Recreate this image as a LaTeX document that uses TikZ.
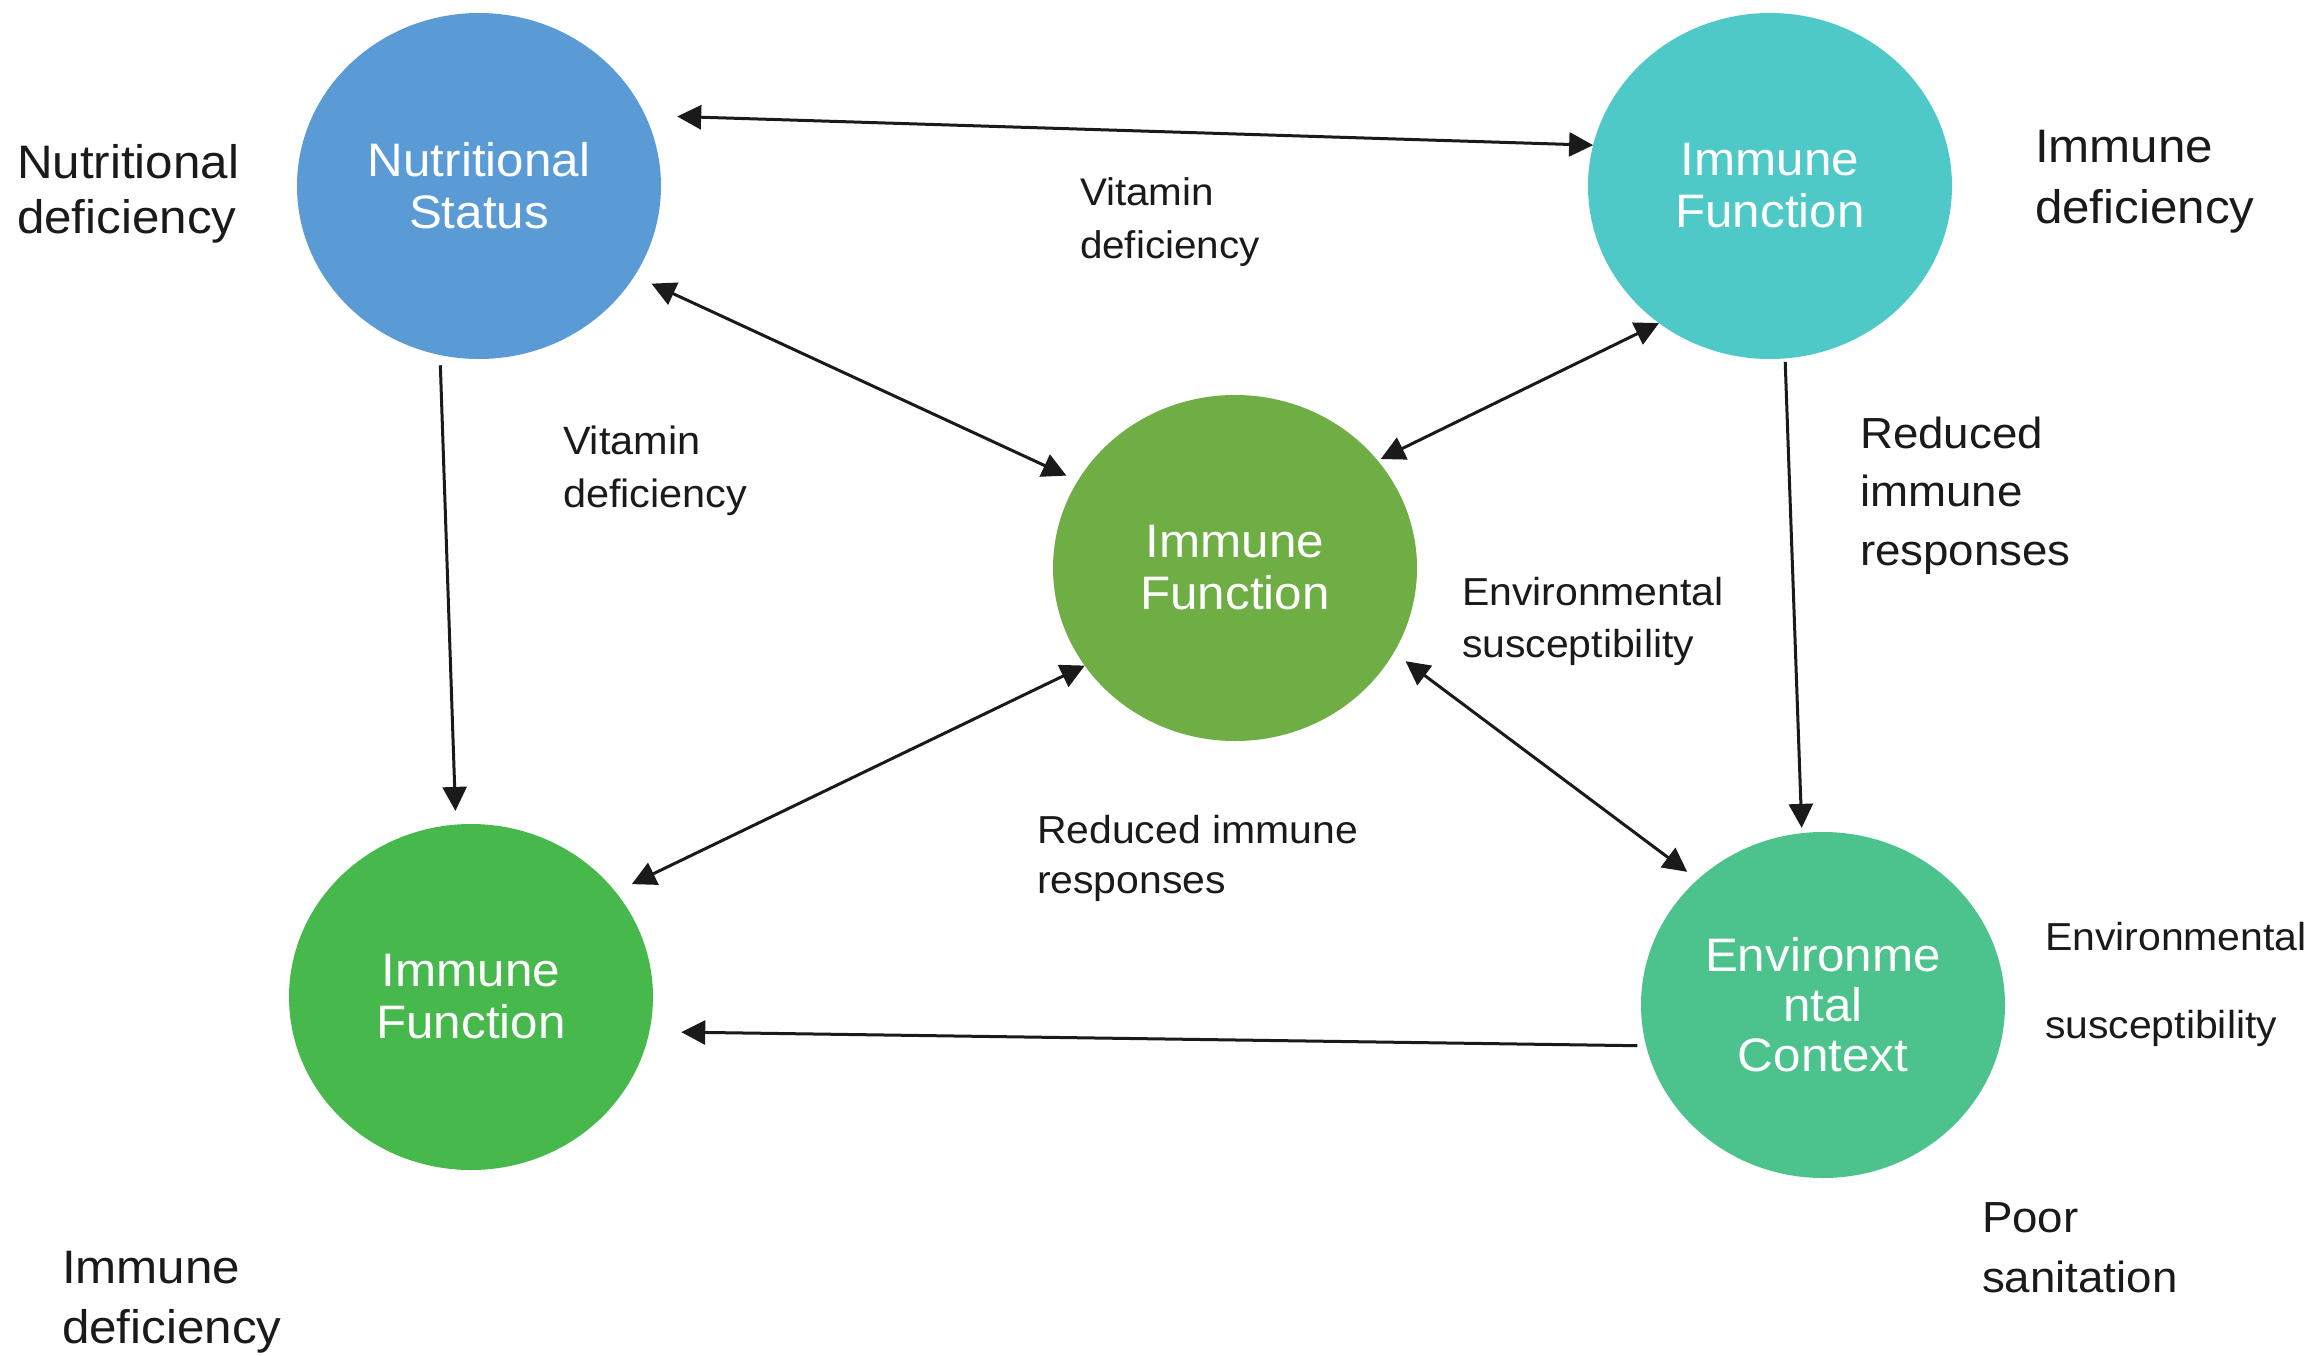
\documentclass[tikz,border=0pt]{standalone}
\usepackage{fontspec}
\setmainfont[FakeStretch=1.05]{Liberation Sans}
\usetikzlibrary{arrows.meta,shapes.geometric}
\definecolor{nsblue}{HTML}{5B9BD5}
\definecolor{trcyan}{HTML}{4FC8C8}
\definecolor{midgreen}{HTML}{6FAD45}
\definecolor{blgreen}{HTML}{47B94C}
\definecolor{envgreen}{HTML}{4CC38C}
\definecolor{ink}{HTML}{1A1A1A}
\begin{document}
\begin{tikzpicture}[x=1pt,y=-1pt,
  circ/.style={ellipse, minimum width=364pt, minimum height=346pt, inner sep=0pt, outer sep=0pt,
    text=white, align=center, font=\fontsize{47}{52}\selectfont},
  lbl/.style={anchor=base west, inner sep=0pt, outer sep=0pt, align=left, text=ink},
  arr/.style={draw=ink, line width=3pt, -{Triangle[length=24pt,width=24pt]}},
  dbl/.style={draw=ink, line width=3pt, {Triangle[length=24pt,width=24pt]}-{Triangle[length=24pt,width=24pt]}}
]
\useasboundingbox[fill=white] (0,0) rectangle (2313,1355);

% circles
\node[circ, fill=nsblue]   (ns)  at (479,186)   {Nutritional\\Status};
\node[circ, fill=trcyan]   (tr)  at (1770,186)  {Immune\\Function};
\node[circ, fill=midgreen] (mid) at (1235,568)  {Immune\\Function};
\node[circ, fill=blgreen]  (bl)  at (471,997)   {Immune\\Function};
\node[circ, fill=envgreen, font=\fontsize{47}{50}\selectfont] (env) at (1823,1005) {Environme\\ntal\\Context};

% labels (anchor = baseline of the last line)
\node[lbl, font=\fontsize{47}{55}\selectfont] (l1) at (17,233) {Nutritional\\deficiency};
\node[lbl, font=\fontsize{47}{61}\selectfont] (l2) at (2035,223) {Immune\\deficiency};
\node[lbl, font=\fontsize{47}{60}\selectfont] (l3) at (62,1343) {Immune\\deficiency};
\node[lbl, font=\fontsize{38.5}{53}\selectfont] (l4) at (1080,258) {Vitamin\\deficiency};
\node[lbl, font=\fontsize{39.5}{53}\selectfont] (l5) at (563,507) {Vitamin\\deficiency};
\node[lbl, font=\fontsize{43.5}{58.5}\selectfont] (l6) at (1860,565) {Reduced\\immune\\responses};
\node[lbl, font=\fontsize{39}{52}\selectfont] (l7) at (1462,657) {Environmental\\susceptibility};
\node[lbl, font=\fontsize{39}{50}\selectfont] (l8) at (1037,893) {Reduced immune\\responses};
\node[lbl, font=\fontsize{39}{88}\selectfont] (l9) at (2045,1038) {Environmental\\susceptibility};
\node[lbl, font=\fontsize{43.5}{60}\selectfont] (l10) at (1982,1292) {Poor\\sanitation};

% connectors
\draw[dbl, shorten <=32pt] (ns.23.2) -- (tr.167.9);
\draw[dbl, shorten <=18.7pt, shorten >=12.5pt] (ns.-30.9) -- (mid.151.9);
\draw[dbl, shorten >=3.5pt] (tr.231.3) -- (mid.37.4);
\draw[arr, shorten <=10.3pt, shorten >=13.7pt] (ns.-103.5) -- (bl.95.1);
\draw[arr, shorten <=3.4pt, shorten >=5.3pt] (tr.-85.7) -- (env.97.6);
\draw[dbl, shorten >=18pt] (mid.213.2) -- (bl.36.5);
\draw[dbl, shorten <=14.6pt, shorten >=13pt] (mid.-28.3) -- (env.135.1);
\draw[arr, shorten <=8.7pt, shorten >=31.9pt] (env.193.7) -- (bl.-11.3);
\end{tikzpicture}
\end{document}
